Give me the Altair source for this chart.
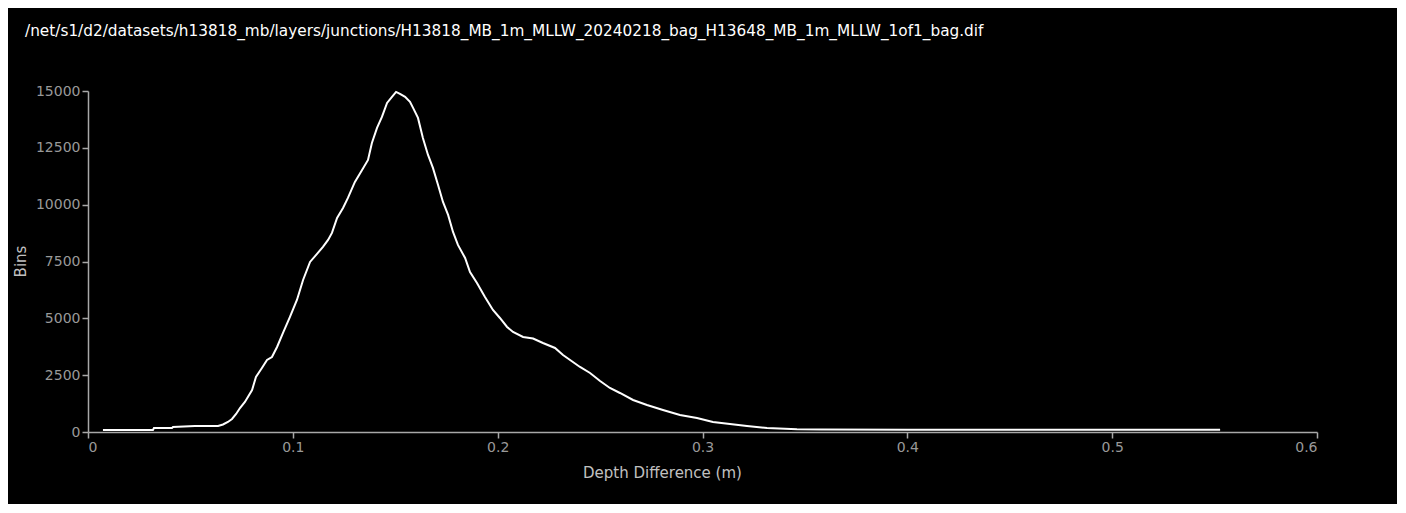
import altair as alt
import pandas as pd

TITLE = "/net/s1/d2/datasets/h13818_mb/layers/junctions/H13818_MB_1m_MLLW_20240218_bag_H13648_MB_1m_MLLW_1of1_bag.dif"

depth_diff = [
    0.0073, 0.0317, 0.0322, 0.0410, 0.0415, 0.0522, 0.0635, 0.0659, 0.0683, 0.0703,
    0.0723, 0.0742, 0.0766, 0.0801, 0.0820, 0.0849, 0.0874, 0.0898, 0.0923, 0.0952,
    0.0986, 0.1020, 0.1050, 0.1084, 0.1118, 0.1147, 0.1172, 0.1191, 0.1216, 0.1245,
    0.1269, 0.1303, 0.1338, 0.1367, 0.1386, 0.1411, 0.1435, 0.1460, 0.1484, 0.1504,
    0.1523, 0.1548, 0.1572, 0.1587, 0.1611, 0.1635, 0.1660, 0.1684, 0.1709, 0.1733,
    0.1758, 0.1782, 0.1806, 0.1841, 0.1865, 0.1899, 0.1938, 0.1977, 0.2011, 0.2046,
    0.2075, 0.2124, 0.2173, 0.2221, 0.2280, 0.2319, 0.2402, 0.2451, 0.2500, 0.2548,
    0.2597, 0.2661, 0.2729, 0.2807, 0.2890, 0.2973, 0.3051, 0.3134, 0.3217, 0.3315,
    0.3461, 0.3574, 0.4000, 0.4500, 0.5000, 0.5527,
]
bins = [
    88, 88, 176, 176, 220, 264, 264, 330, 440, 572,
    792, 1056, 1320, 1848, 2420, 2816, 3168, 3300, 3740, 4356,
    5060, 5808, 6688, 7480, 7832, 8140, 8448, 8756, 9416, 9856,
    10296, 11000, 11528, 11968, 12716, 13376, 13860, 14476, 14740, 14960,
    14872, 14740, 14520, 14256, 13816, 12936, 12188, 11616, 10868, 10120,
    9548, 8800, 8228, 7656, 7040, 6556, 5940, 5368, 5016, 4620,
    4400, 4180, 4114, 3916, 3696, 3388, 2860, 2596, 2244, 1936,
    1716, 1408, 1188, 968, 748, 616, 440, 352, 264, 176,
    120, 110, 100, 100, 100, 100,
]

df = pd.DataFrame({"depth": depth_diff, "bins": bins})

FONT = "DejaVu Sans"

chart = (
    alt.Chart(df)
    .mark_line(color="white", strokeWidth=2, interpolate="linear")
    .encode(
        x=alt.X(
            "depth:Q",
            scale=alt.Scale(domain=[0, 0.6], nice=False, zero=True),
            axis=alt.Axis(
                title="Depth Difference (m)",
                values=[0, 0.1, 0.2, 0.3, 0.4, 0.5, 0.6],
                format="~g",
                grid=False,
                tickSize=6,
                labelPadding=2,
                titleX=574,
                titleY=40,
                titleBaseline="middle",
                titleAlign="center",
            ),
        ),
        y=alt.Y(
            "bins:Q",
            scale=alt.Scale(domain=[0, 15000], nice=False),
            axis=alt.Axis(
                title="Bins",
                values=[0, 2500, 5000, 7500, 10000, 12500, 15000],
                format="d",
                grid=False,
                tickSize=6,
                labelPadding=2,
                titleX=-68,
                titleY=170,
                titleBaseline="middle",
                titleAlign="center",
            ),
        ),
    )
    .properties(
        width=1229,
        height=341,
        autosize=alt.AutoSizeParams(type="none"),
        padding={"left": 80, "top": 83, "right": 80, "bottom": 72},
        background="black",
        title=alt.TitleParams(
            TITLE,
            anchor="start",
            frame="group",
            dx=-63,
            offset=45,
            color="white",
            font=FONT,
            fontSize=15.3,
            fontWeight="normal",
        ),
    )
    .configure_view(stroke=None)
    .configure_axis(
        domainColor="#a8a8a8",
        tickColor="#a8a8a8",
        labelColor="#999999",
        titleColor="#c0c0c0",
        labelFont=FONT,
        titleFont=FONT,
        labelFontSize=14,
        titleFontSize=15,
        titleFontWeight="normal",
        domainWidth=1.5,
        tickWidth=1.5,
    )
)

chart.save("out.html", embed_options={"renderer": "svg", "actions": False})
